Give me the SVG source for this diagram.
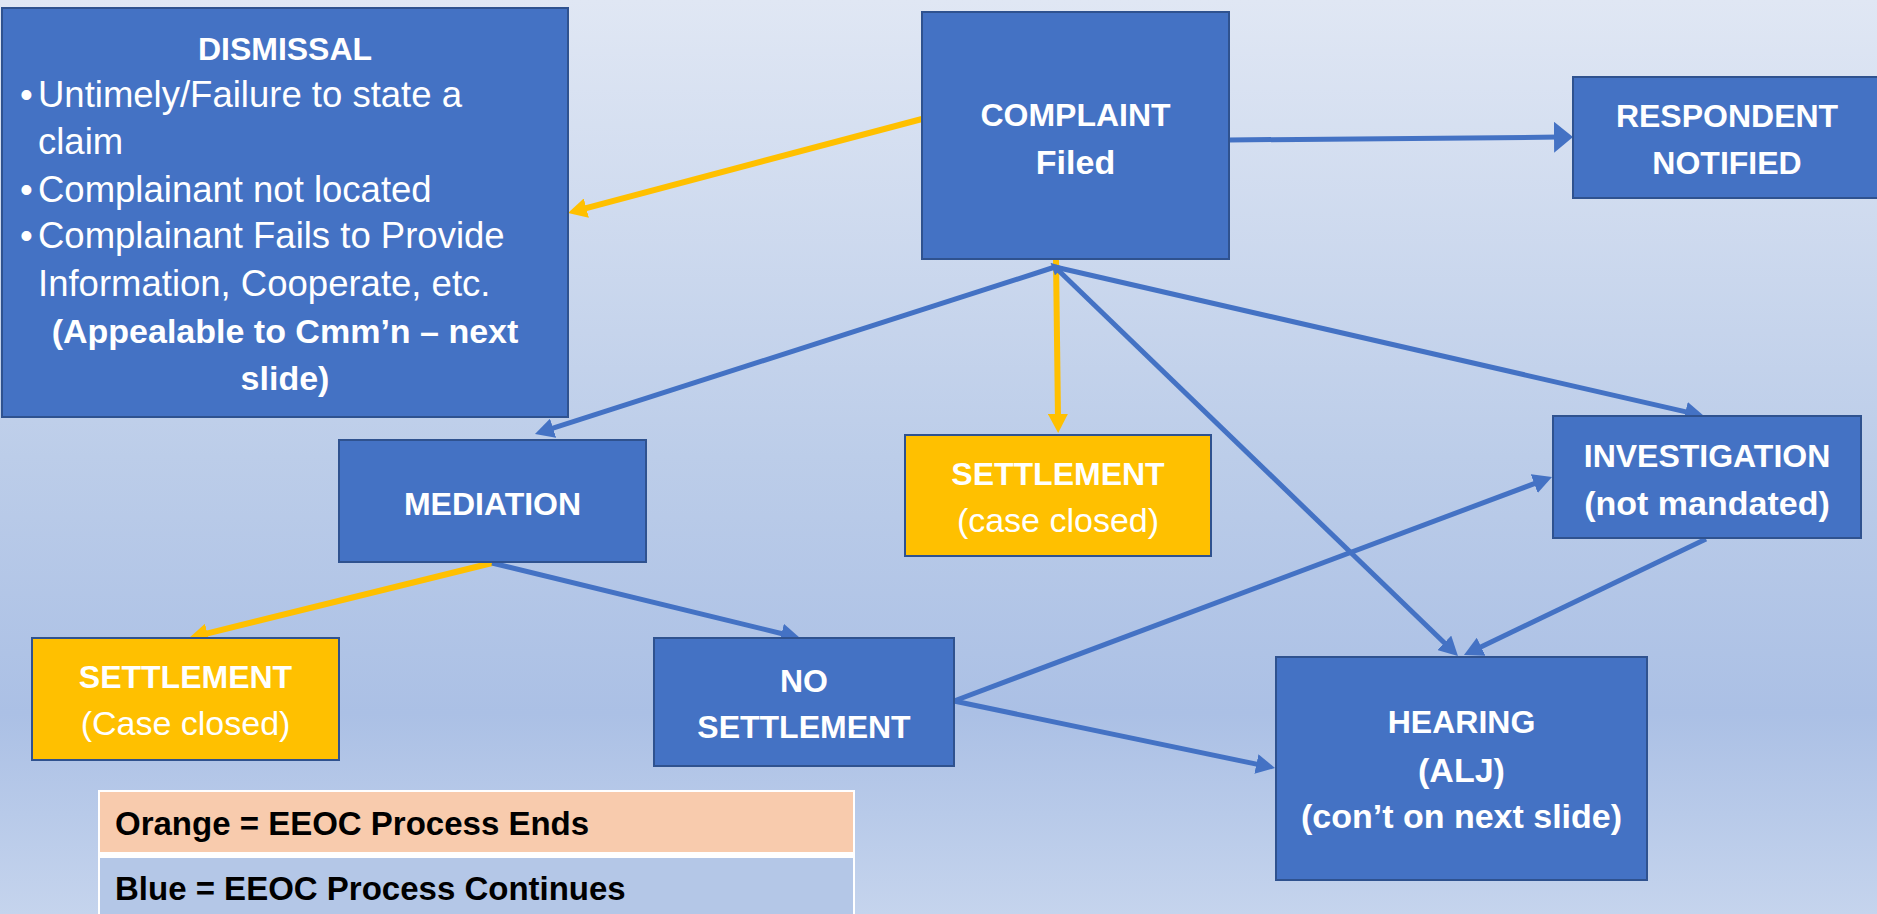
<svg xmlns="http://www.w3.org/2000/svg" width="1877" height="914" viewBox="0 0 1877 914">
<defs>
<linearGradient id="bg" x1="0" y1="0" x2="0" y2="1">
<stop offset="0" stop-color="#E0E7F4"/>
<stop offset="0.5" stop-color="#BCCDE9"/>
<stop offset="0.78" stop-color="#ABC0E5"/>
<stop offset="1" stop-color="#C5D4ED"/>
</linearGradient>
<marker id="ab" markerUnits="userSpaceOnUse" markerWidth="19" markerHeight="20" refX="5" refY="10" orient="auto" viewBox="0 0 19 20"><path d="M0,0 L19,10 L0,20 z" fill="#4472C4"/></marker>
<marker id="ao" markerUnits="userSpaceOnUse" markerWidth="19" markerHeight="20" refX="5" refY="10" orient="auto" viewBox="0 0 19 20"><path d="M0,0 L19,10 L0,20 z" fill="#FFC000"/></marker>
<marker id="abig" markerUnits="userSpaceOnUse" markerWidth="19" markerHeight="31" refX="5" refY="15.5" orient="auto" viewBox="0 0 19 31"><path d="M0,0 L19,15.5 L0,31 z" fill="#4472C4"/></marker>
<marker id="asmall" markerUnits="userSpaceOnUse" markerWidth="12" markerHeight="12" refX="3" refY="6" orient="auto-start-reverse" viewBox="0 0 12 12"><path d="M0,0 L12,6 L0,12 z" fill="#4472C4"/></marker>
</defs>
<style>
.box{fill:#4472C4;stroke:#2F528F;stroke-width:2}
.obox{fill:#FFC000;stroke:#2F528F;stroke-width:2}
.t{font-family:"Liberation Sans",Arial,sans-serif;fill:#FFFFFF;text-anchor:middle}
.b{font-weight:bold;font-size:32px}
.bm{font-weight:bold;font-size:34px}
.r{font-size:34px}
.bl{font-family:"Liberation Sans",Arial,sans-serif;fill:#FFFFFF;font-size:36.5px}
.lg{font-family:"Liberation Sans",Arial,sans-serif;fill:#000000;font-weight:bold;font-size:33px}
.cb{fill:none;stroke:#4472C4;stroke-width:5}
.co{fill:none;stroke:#FFC000;stroke-width:6}
</style>
<rect x="0" y="0" width="1877" height="914" fill="url(#bg)"/>

<g id="connectors">
<line class="co" x1="922" y1="119" x2="581.5" y2="209.4" marker-end="url(#ao)"/>
<line class="cb" x1="1229" y1="140" x2="1559" y2="137.1" stroke-width="7" marker-end="url(#abig)"/>
<line class="co" x1="1056" y1="259" x2="1058" y2="419" marker-end="url(#ao)"/>
<line class="cb" x1="1055" y1="267" x2="548.3" y2="429.7" marker-end="url(#ab)"/>
<line class="cb" x1="1055" y1="267" x2="1690.4" y2="412.9" marker-end="url(#ab)"/>
<line class="cb" x1="1057" y1="269" x2="1447.9" y2="646.3" marker-start="url(#asmall)" marker-end="url(#ab)"/>
<line class="co" x1="492" y1="563" x2="202.6" y2="634.6" marker-end="url(#ao)"/>
<line class="cb" x1="492" y1="563" x2="786.4" y2="634.7" marker-end="url(#ab)"/>
<line class="cb" x1="954" y1="701" x2="1538.9" y2="481.9" marker-end="url(#ab)"/>
<line class="cb" x1="954" y1="701" x2="1261.3" y2="765.1" marker-end="url(#ab)"/>
<line class="cb" x1="1706" y1="539" x2="1476.6" y2="648.9" marker-end="url(#ab)"/>
</g>

<g id="dismissal">
<rect class="box" x="2" y="8" width="566" height="409"/>
<text class="t b" x="285" y="60">DISMISSAL</text>
<text class="bl" x="20" y="107">•</text>
<text class="bl" x="38" y="107">Untimely/Failure to state a</text>
<text class="bl" x="38" y="154">claim</text>
<text class="bl" x="20" y="202">•</text>
<text class="bl" x="38" y="202">Complainant not located</text>
<text class="bl" x="20" y="248">•</text>
<text class="bl" x="38" y="248">Complainant Fails to Provide</text>
<text class="bl" x="38" y="296">Information, Cooperate, etc.</text>
<text class="t bm" x="285" y="343">(Appealable to Cmm’n – next</text>
<text class="t bm" x="285" y="390">slide)</text>
</g>

<g id="complaint">
<rect class="box" x="922" y="12" width="307" height="247"/>
<text class="t b" x="1075.5" y="126">COMPLAINT</text>
<text class="t bm" x="1075.5" y="174">Filed</text>
</g>

<g id="respondent">
<rect class="box" x="1573" y="77" width="312" height="121"/>
<text class="t b" x="1727" y="127">RESPONDENT</text>
<text class="t b" x="1727" y="174">NOTIFIED</text>
</g>

<g id="mediation">
<rect class="box" x="339" y="440" width="307" height="122"/>
<text class="t b" x="492.5" y="515">MEDIATION</text>
</g>

<g id="settlement-closed">
<rect class="obox" x="905" y="435" width="306" height="121"/>
<text class="t b" x="1058" y="485">SETTLEMENT</text>
<text class="t r" x="1058" y="532">(case closed)</text>
</g>

<g id="investigation">
<rect class="box" x="1553" y="416" width="308" height="122"/>
<text class="t b" x="1707" y="467">INVESTIGATION</text>
<text class="t bm" x="1707" y="515">(not mandated)</text>
</g>

<g id="settlement-mediation">
<rect class="obox" x="32" y="638" width="307" height="122"/>
<text class="t b" x="185.5" y="688">SETTLEMENT</text>
<text class="t r" x="185.5" y="735">(Case closed)</text>
</g>

<g id="no-settlement">
<rect class="box" x="654" y="638" width="300" height="128"/>
<text class="t b" x="804" y="692">NO</text>
<text class="t b" x="804" y="738">SETTLEMENT</text>
</g>

<g id="hearing">
<rect class="box" x="1276" y="657" width="371" height="223"/>
<text class="t b" x="1461.5" y="733">HEARING</text>
<text class="t bm" x="1461.5" y="782">(ALJ)</text>
<text class="t bm" x="1461.5" y="828">(con’t on next slide)</text>
</g>

<g id="legend">
<rect x="98" y="790" width="757" height="130" fill="#FFFFFF"/>
<rect x="100" y="792" width="753" height="60" fill="#F8CBAD"/>
<rect x="100" y="858" width="753" height="60" fill="#B4C7E7"/>
<text class="lg" x="115" y="835">Orange = EEOC Process Ends</text>
<text class="lg" x="115" y="900">Blue = EEOC Process Continues</text>
</g>
</svg>
